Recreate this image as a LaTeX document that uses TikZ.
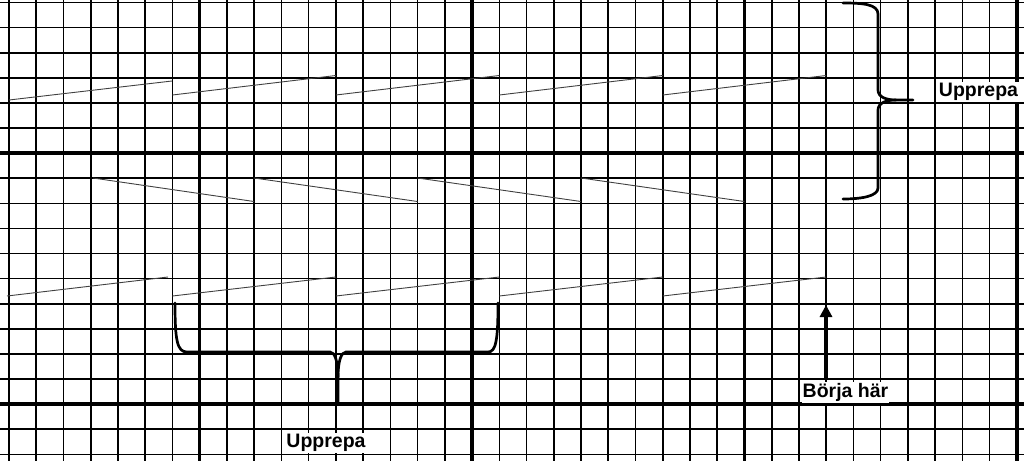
\documentclass[tikz,border=0pt]{standalone}
\usepackage{fontspec}
\setmainfont{Liberation Sans}
\usepackage{tikz}
\usetikzlibrary{arrows.meta}

\begin{document}
\begin{tikzpicture}[x=1pt,y=-1pt,
        gridline/.style={line width=1.6pt},
        majorline/.style={line width=3.4pt},
        stitch/.style={line width=0.9pt,black!75},
        brace/.style={line width=2.7pt,line cap=round},
        textruta/.style={fill=white,inner sep=1pt,font=\fontsize{19.5}{23}\selectfont\bfseries},
        pil/.style={line width=3.5pt,-{Triangle[length=12pt,width=12pt]}}]
        \useasboundingbox (0,0) rectangle (1024,461);
        \clip (0,0) rectangle (1024,461);
        % rutnat
        \foreach \k in {0,...,37}
            \draw[gridline] ({9+27.24*\k},0) -- ({9+27.24*\k},461);
        \foreach \j in {0,...,18}
            \draw[gridline] (0,{2.5+25.1*\j}) -- (1024,{2.5+25.1*\j});
        \foreach \k in {7,17,27,37}
            \draw[majorline] ({9+27.24*\k},0) -- ({9+27.24*\k},461);
        \foreach \j in {6,16}
            \draw[majorline] (0,{2.5+25.1*\j}) -- (1024,{2.5+25.1*\j});

        % varv
        \draw[stitch] (9,100) -- (172,81);
        \foreach \i in {1,...,4}
            \draw[stitch] ({9+163.44*\i},95) -- ({9+163.44*(\i+1)},75.5);
        \draw[stitch] (93,178) -- (254,201.5);
        \foreach \i in {1,...,3}
            \draw[stitch] ({90.7+163.44*\i},178) -- ({254.1+163.44*\i},201.5);
        \draw[stitch] (7,296) -- (168,277);
        \foreach \i in {1,...,4}
            \draw[stitch] ({9+163.44*\i},296) -- ({9+163.44*(\i+1)},277);

        % klamrar
        \draw[brace] (843,3) .. controls (862,3) and (878,4) .. (878,14) -- (878,90)
            .. controls (878,97) and (886,100) .. (896,100) -- (913,100);
        \draw[brace] (896,100) .. controls (886,100) and (878,103) .. (878,110) -- (878,188)
            .. controls (878,196) and (862,199) .. (843,199);
        \draw[brace] (175,303) .. controls (175,340) and (177,352) .. (187,352) -- (330,352)
            .. controls (335,352) and (338,362) .. (338,377) -- (338,404);
        \draw[brace] (338,377) .. controls (338,362) and (341,352) .. (346,352) -- (488,352)
            .. controls (496,352) and (498,340) .. (498,303);

        \node[textruta,anchor=base] (hoger) at (978.5,96.7) {Upprepa};
        \node[textruta,anchor=base] (nedre) at (326,447.5) {Upprepa};
        \node[textruta,anchor=base] (borja) at (845.5,397.5) {Börja här};

        \coordinate (topp) at (826,305);
        \coordinate (fot) at ([yshift=4pt]borja.north);
        \draw[pil] (fot -| topp) -- (topp);
    \end{tikzpicture}
\end{document}
